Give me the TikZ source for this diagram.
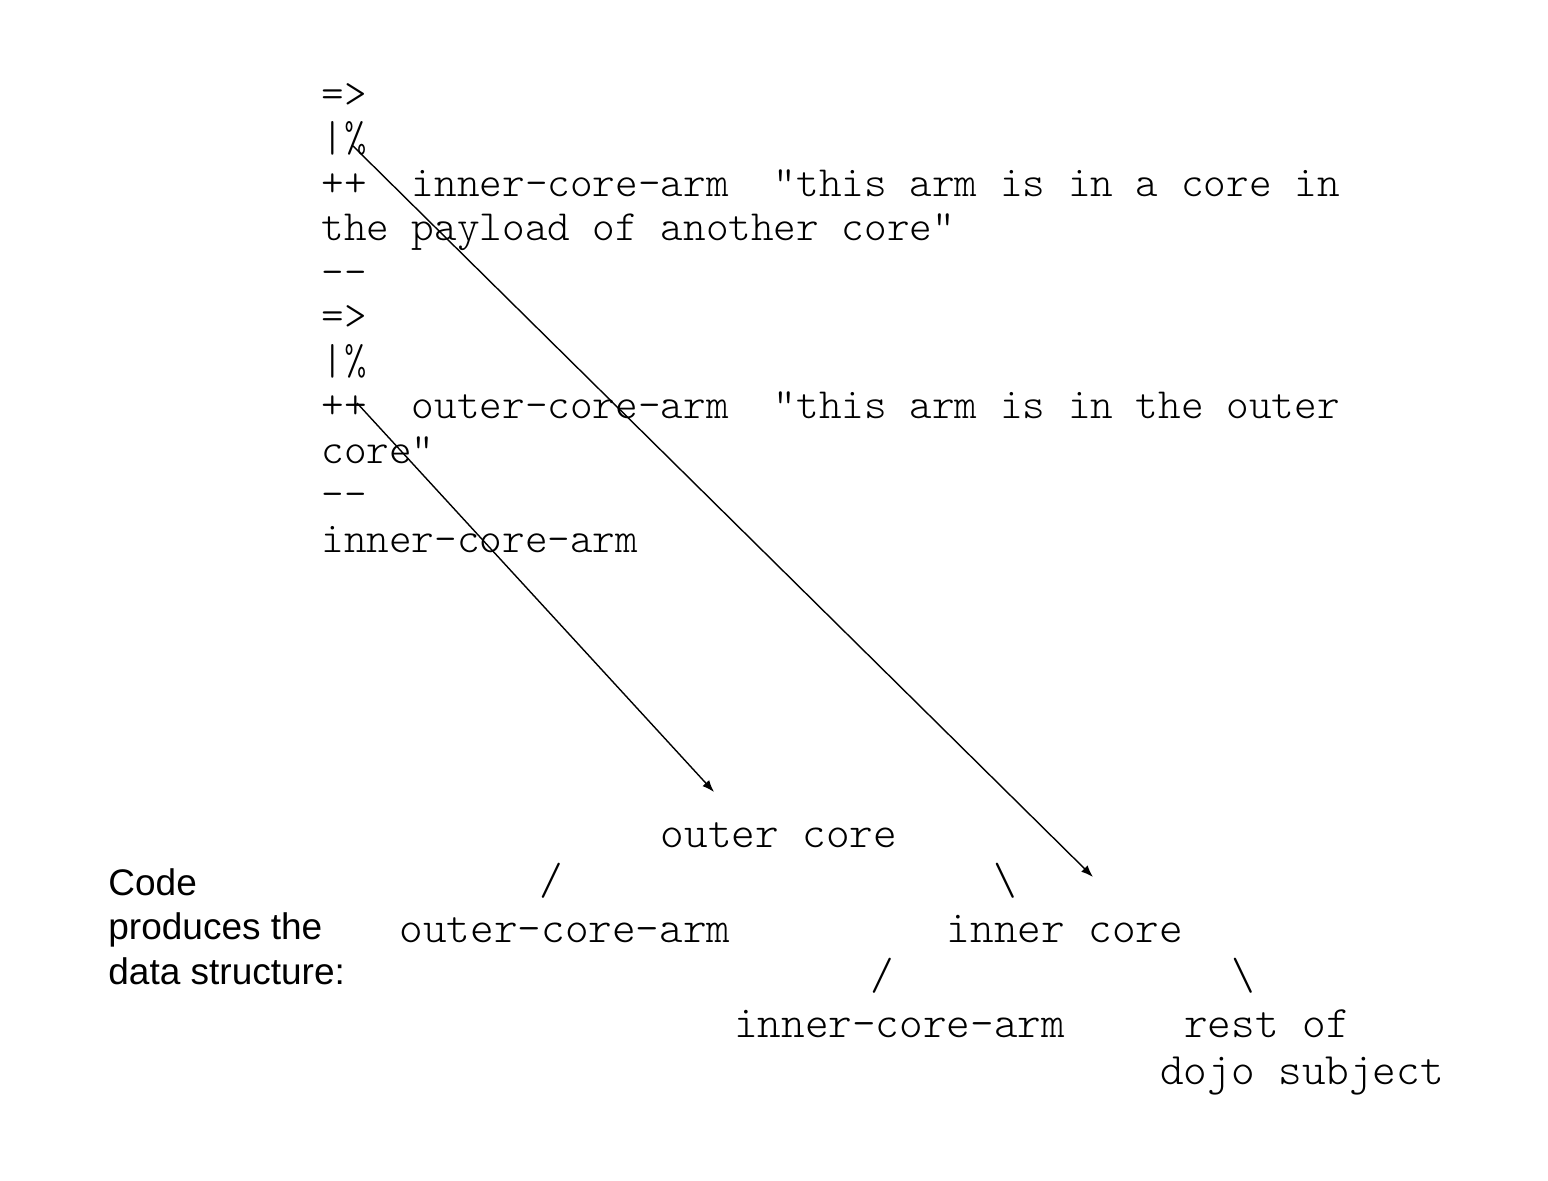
\documentclass[tikz,border=0pt]{standalone}
\usepackage{fontspec}
\setsansfont{Liberation Sans}
\setmonofont{Latin Modern Mono Light}
\usetikzlibrary{arrows.meta, positioning}
\tikzset{%
	codeline/.style={anchor=base west, inner sep=0pt, font=\ttfamily\fontsize{21.55}{24}\selectfont},
	treenode/.style={anchor=base, inner sep=0pt, font=\ttfamily\fontsize{22.5}{25}\selectfont},
	remark/.style={anchor=north west, inner sep=0pt, align=left,%
		font=\sffamily\fontsize{18.5}{22.25}\selectfont},
	sel/.style={-{Latex[length=6pt,width=4.5pt]}, line width=0.7pt}
}
\begin{document}
\begin{tikzpicture}[x=0.5pt, y=-0.5pt]
		\useasboundingbox (0,0) rectangle (1548,1180);
		% code
		\node[codeline] (l1)  at (321,107)   {=>};
		\node[codeline] (l2)  at (321,151.5) {|\%};
		\node[codeline] (l3)  at (321,196)   {++~~inner-core-arm~~"this arm is in a core in};
		\node[codeline] (l4)  at (321,240.5) {the payload of another core"};
		\node[codeline] (l5)  at (321,285)   {-{}-};
		\node[codeline] (l6)  at (321,329.5) {=>};
		\node[codeline] (l7)  at (321,374)   {|\%};
		\node[codeline] (l8)  at (321,418.5) {++~~outer-core-arm~~"this arm is in the outer};
		\node[codeline] (l9)  at (321,463)   {core"};
		\node[codeline] (l10) at (321,507.5) {-{}-};
		\node[codeline] (l11) at (321,552)   {inner-core-arm};
		% data structure
		\node[remark] (cap) at (108,868) {Code\\produces the\\data structure:};
		\node[treenode] (outer)   at (779,847)    {outer core};
		\node[treenode] (o-l)     at (551,894.5)  {/};
		\node[treenode] (o-r)     at (1005,894.5) {\textbackslash};
		\node[treenode] (oarm)    at (565,942)    {outer-core-arm};
		\node[treenode] (inner)   at (1065,942)   {inner core};
		\node[treenode] (i-l)     at (882,989.5)  {/};
		\node[treenode] (i-r)     at (1243,989.5) {\textbackslash};
		\node[treenode] (iarm)    at (899.5,1037) {inner-core-arm};
		\node[treenode] (rest)    at (1267,1037)  {rest of};
		\node[treenode] (subject) at (1302,1084.5) {dojo subject};
		% arrows
		\coordinate (s1) at (352,145);
		\coordinate (e1) at (1093,877);
		\coordinate (s2) at (357,403);
		\coordinate (e2) at (714,792);
		\draw [sel] (s1) -- (e1);
		\draw [sel] (s2) -- (e2);
	\end{tikzpicture}
\end{document}
